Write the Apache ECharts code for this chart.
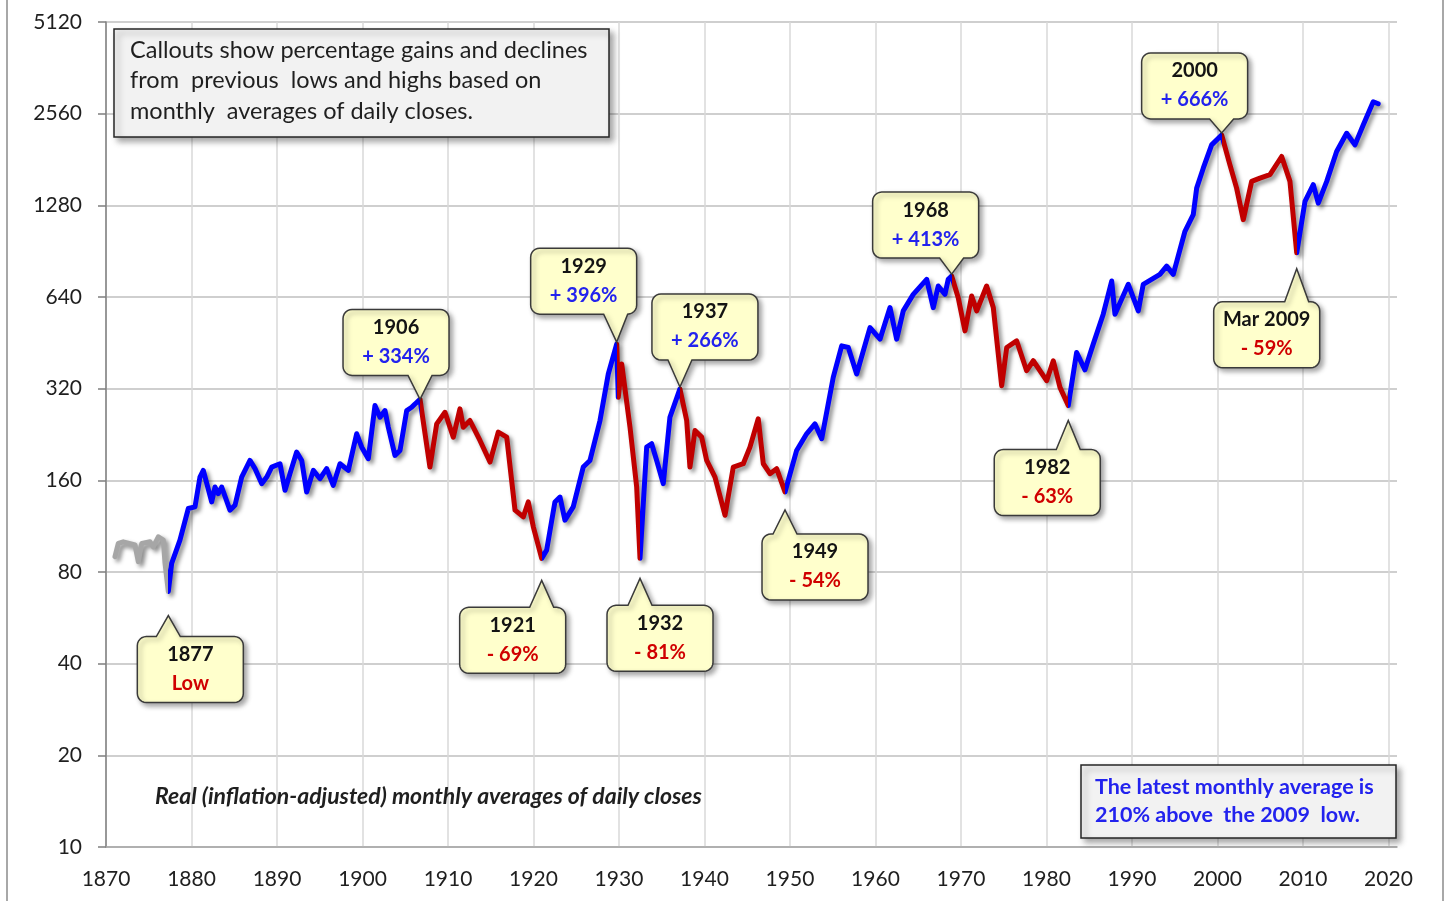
<!DOCTYPE html>
<html>
<head>
<meta charset="utf-8">
<title>Real S&amp;P Composite, monthly averages</title>
<script src="https://cdn.jsdelivr.net/npm/echarts@6.0.0/dist/echarts.min.js"></script>
<style>
  html, body { margin: 0; padding: 0; background: #fff; }
  #main { width: 1449px; height: 901px; }
</style>
</head>
<body>
<div id="main"></div>
<script>
// real (inflation-adjusted) monthly averages
var years = [
  1871.05, 1871.44, 1872.02, 1873.39, 1873.78, 1874.18, 1875.15, 1875.53, 1876.12, 1876.70, 1876.90, 1877.29,
  1877.68, 1878.65, 1879.63, 1880.41, 1880.99, 1881.38, 1882.36, 1882.75, 1883.13, 1883.53, 1884.50, 1885.09,
  1885.87, 1886.84, 1887.43, 1888.21, 1888.80, 1889.38, 1890.35, 1890.94, 1891.52, 1892.30, 1892.89, 1893.47,
  1894.25, 1895.03, 1895.81, 1896.58, 1897.37, 1898.34, 1899.32, 1899.91, 1900.68, 1901.46, 1902.05, 1902.63,
  1903.02, 1903.80, 1904.39, 1905.17, 1905.75, 1906.14, 1906.73,
  1907.89, 1908.68, 1909.65, 1910.62, 1911.40, 1911.79, 1912.57, 1913.74, 1914.91, 1915.88, 1916.87, 1917.84,
  1918.81, 1919.39, 1919.98, 1920.96,
  1921.54, 1922.51, 1923.10, 1923.68, 1924.65, 1925.82, 1926.61, 1927.78, 1928.75, 1929.73,
  1929.92, 1930.32, 1931.29, 1932.07, 1932.46,
  1933.24, 1933.82, 1934.41, 1935.18, 1935.96, 1937.13,
  1937.92, 1938.30, 1938.89, 1939.67, 1940.26, 1941.23, 1942.40, 1943.37, 1944.54, 1945.32, 1946.29, 1946.88,
  1947.66, 1948.44, 1949.42,
  1950.78, 1951.95, 1952.92, 1953.71, 1955.06, 1956.05, 1956.82, 1957.80, 1959.36, 1960.53, 1961.70, 1962.48,
  1963.25, 1964.42, 1965.99, 1966.76, 1967.34, 1968.13, 1968.51, 1968.91,
  1969.68, 1970.47, 1971.25, 1971.84, 1973.00, 1973.78, 1974.76, 1975.35, 1976.51, 1977.68, 1978.46, 1980.02,
  1980.80, 1981.58, 1982.55,
  1983.53, 1984.50, 1985.47, 1986.64, 1987.63, 1988.01, 1989.57, 1990.74, 1991.32, 1993.27, 1994.06, 1994.83,
  1996.20, 1997.17, 1997.57, 1998.34, 1999.32, 2000.49,
  2001.46, 2002.24, 2003.02, 2004.00, 2004.97, 2006.14, 2007.51, 2008.48, 2009.27,
  2010.24, 2011.21, 2011.79, 2012.78, 2013.94, 2015.11, 2016.08, 2017.05, 2018.22, 2018.80
];
var values = [
  89.8, 99.3, 100.5, 98.1, 86.5, 99.3, 100.5, 96.8, 104.4, 101.8, 85.6, 69.0,
  85.4, 101.8, 129.3, 130.9, 164.0, 172.5, 135.9, 152.1, 144.7, 152.1, 127.7, 132.5,
  164.0, 186.0, 174.8, 156.1, 164.0, 176.9, 181.4, 148.4, 168.3, 198.1, 186.0, 146.5,
  172.5, 162.0, 174.8, 154.1, 181.4, 172.5, 227.5, 205.6, 188.4, 281.6, 257.8, 271.2,
  239.0, 193.2, 200.6, 271.2, 278.0, 285.0, 295.0,
  176.9, 245.2, 267.7, 221.8, 274.6, 239.0, 251.5, 216.3, 183.7, 230.3, 221.8, 127.7,
  121.4, 135.9, 112.6, 88.7,
  94.4, 135.9, 141.0, 118.4, 130.9, 176.9, 186.0, 251.5, 357.4, 448.1,
  299.7, 385.3, 239.0, 152.1, 88.7,
  205.6, 211.0, 186.0, 156.1, 257.8, 319.3,
  251.5, 176.9, 233.2, 221.8, 186.0, 164.0, 122.9, 176.9, 181.4, 205.6, 254.8, 181.4,
  168.3, 174.8, 146.5,
  200.6, 227.5, 245.2, 219.1, 348.6, 442.3, 436.9, 357.4, 507.9, 465.3, 590.7, 465.3,
  576.1, 653.0, 731.4, 590.7, 695.7, 653.0, 731.4, 749.7,
  636.6, 495.3, 645.0, 576.1, 695.7, 590.7, 327.4, 436.9, 459.5, 366.6, 395.2, 339.9,
  395.2, 323.1, 281.6,
  420.7, 369.0, 448.1, 561.9, 722.3, 561.9, 704.3, 576.1, 704.3, 759.7, 808.6, 759.7,
  1052, 1193, 1458, 1695, 2022, 2180,
  1739, 1458, 1149, 1534, 1573, 1614, 1852, 1534, 894,
  1319, 1496, 1302, 1534, 1922, 2207, 2022, 2351, 2801, 2760
];

// lows and highs where the colour changes (gray, then blue rises / red falls)
var turns = [1877.29, 1906.73, 1920.96, 1929.73, 1932.46, 1937.13, 1949.42, 1968.91, 1982.55, 2000.49, 2009.27];
var calloutTitles = ['1877', '1906', '1921', '1929', '1932', '1937', '1949', '1968', '1982', '2000', 'Mar 2009'];
var calloutNotes = ['Low', '+ 334%', '- 69%', '+ 396%', '- 81%', '+ 266%', '- 54%', '+ 413%', '- 63%', '+ 666%', '- 59%'];

// box centre offset from the turning point (px) and gap between point and pointer tip
var calloutLayout = [
  [22, 78, 24], [-24, -57, 0], [-29, 82, 22], [-33, -63, 2], [20, 80, 20], [25, -62, 2],
  [30, 75, 18], [-26, -51, 2], [-21, 77, 15], [-27, -49, 2], [-30, 82, 16]
];

var FONT = 'Lato, "Open Sans", sans-serif';
var BLUE = '#0000ff', RED = '#c00000', GRAY = '#a6a6a6';

var myChart = echarts.init(document.getElementById('main'));

var lineData = years.map(function (y, i) { return [y, Math.log2(values[i] / 10)]; });

var bounds = [1860].concat(turns, [2030]);
var pieces = [];
for (var i = 0; i < bounds.length - 1; i++) {
  pieces.push({ gte: bounds[i], lt: bounds[i + 1], color: i === 0 ? GRAY : (i % 2 ? BLUE : RED) });
}

var option = {
  animation: false,
  backgroundColor: '#fff',
  grid: { left: 106, right: 52, top: 22, bottom: 54 },
  visualMap: { type: 'piecewise', show: false, dimension: 0, seriesIndex: 0, pieces: pieces },
  xAxis: {
    type: 'value', min: 1870, max: 2021, interval: 10,
    axisLine: { show: true, lineStyle: { color: '#a6a6a6', width: 1.5 } },
    axisTick: { show: false },
    splitLine: { show: true, showMaxLine: false, lineStyle: { color: '#d9d9d9', width: 1.5 } },
    axisLabel: {
      showMaxLabel: false, margin: 22, fontSize: 21, color: '#1f1f1f', fontFamily: FONT,
      formatter: function (v) { return v % 10 === 0 ? String(v) : ''; }
    }
  },
  yAxis: {
    type: 'value', min: 0, max: 9, interval: 1,
    axisLine: { show: true, lineStyle: { color: '#7f7f7f', width: 1.5 } },
    axisTick: { show: true, length: 8, lineStyle: { color: '#7f7f7f', width: 1.5 } },
    splitLine: { show: true, lineStyle: { color: '#bfbfbf', width: 1.5 } },
    axisLabel: {
      margin: 24, fontSize: 21, color: '#1f1f1f', fontFamily: FONT,
      formatter: function (v) { return String(Math.round(10 * Math.pow(2, v))); }
    }
  },
  series: [{
    type: 'line',
    data: lineData,
    symbol: 'none',
    z: 3,
    lineStyle: {
      width: 5, join: 'round', cap: 'round',
      shadowColor: 'rgba(0,0,0,0.45)', shadowBlur: 4, shadowOffsetX: 3, shadowOffsetY: 3
    }
  }]
};
myChart.setOption(option);

function arc(pts, cx, cy, r, a0, a1) {
  for (var k = 0; k <= 6; k++) {
    var a = (a0 + (a1 - a0) * k / 6) * Math.PI / 180;
    pts.push([cx + r * Math.cos(a), cy + r * Math.sin(a)]);
  }
}

// rounded box with a pointer to (tx, ty)
function calloutShape(cx, cy, w, h, r, tx, ty) {
  var x0 = cx - w / 2, x1 = cx + w / 2, y0 = cy - h / 2, y1 = cy + h / 2;
  var half = 12;
  var bc = Math.min(Math.max(tx, x0 + r + half), x1 - r - half);
  var pts = [];
  arc(pts, x0 + r, y0 + r, r, 180, 270);
  if (ty < y0) { pts.push([bc - half, y0], [tx, ty], [bc + half, y0]); }
  arc(pts, x1 - r, y0 + r, r, 270, 360);
  arc(pts, x1 - r, y1 - r, r, 0, 90);
  if (ty > y1) { pts.push([bc + half, y1], [tx, ty], [bc - half, y1]); }
  arc(pts, x0 + r, y1 - r, r, 90, 180);
  return pts;
}

var graphics = [];

// outer frame of the picture
graphics.push({
  type: 'rect', shape: { x: 7, y: -10, width: 1436, height: 921 },
  style: { fill: 'none', stroke: '#8c8c8c', lineWidth: 1.5 }, z: 1
});

turns.forEach(function (t, i) {
  var idx = years.indexOf(t);
  var p = myChart.convertToPixel({ gridIndex: 0 }, lineData[idx]);
  var lay = calloutLayout[i];
  var cx = p[0] + lay[0], cy = p[1] + lay[1];
  var ty = lay[1] > 0 ? p[1] + lay[2] : p[1] - lay[2];
  var note = calloutNotes[i];
  graphics.push({
    type: 'polygon', z: 100,
    shape: { points: calloutShape(cx, cy, 106, 66, 9, p[0], ty) },
    style: {
      fill: '#ffffcc', stroke: '#3a3a3a', lineWidth: 1.5,
      shadowBlur: 5, shadowOffsetX: 3, shadowOffsetY: 3, shadowColor: 'rgba(0,0,0,0.35)'
    }
  });
  graphics.push({
    type: 'text', z: 101,
    style: { text: calloutTitles[i], x: cx, y: cy - 15, textAlign: 'center', textVerticalAlign: 'middle',
      font: 'bold 20px ' + FONT, fill: '#141414' }
  });
  graphics.push({
    type: 'text', z: 101,
    style: { text: note, x: cx, y: cy + 14, textAlign: 'center', textVerticalAlign: 'middle',
      font: 'bold 20px ' + FONT, fill: note.charAt(0) === '+' ? '#2222ee' : '#d00000' }
  });
});

// note box, top left
graphics.push({
  type: 'rect', z: 100, shape: { x: 114, y: 29, width: 495, height: 108 },
  style: { fill: '#f2f2f2', stroke: '#262626', lineWidth: 1.5,
    shadowBlur: 6, shadowOffsetX: 4, shadowOffsetY: 4, shadowColor: 'rgba(0,0,0,0.35)' }
});
['Callouts show percentage gains and declines', 'from  previous  lows and highs based on', 'monthly  averages of daily closes.']
  .forEach(function (s, k) {
    graphics.push({
      type: 'text', z: 101,
      style: { text: s, x: 130, y: 50 + k * 30.5, textAlign: 'left', textVerticalAlign: 'middle',
        font: '23.5px ' + FONT, fill: '#1f1f1f' }
    });
  });

// latest value box, bottom right
graphics.push({
  type: 'rect', z: 100, shape: { x: 1081, y: 765, width: 315, height: 73 },
  style: { fill: '#f2f2f2', stroke: '#262626', lineWidth: 1.5,
    shadowBlur: 6, shadowOffsetX: 4, shadowOffsetY: 4, shadowColor: 'rgba(0,0,0,0.35)' }
});
['The latest monthly average is', '210% above  the 2009  low.'].forEach(function (s, k) {
  graphics.push({
    type: 'text', z: 101,
    style: { text: s, x: 1095, y: 787 + k * 28, textAlign: 'left', textVerticalAlign: 'middle',
      font: 'bold 21.5px ' + FONT, fill: '#2222ee' }
  });
});

graphics.push({
  type: 'text', z: 101,
  style: { text: 'Real (inflation-adjusted) monthly averages of daily closes', x: 155, y: 797,
    textAlign: 'left', textVerticalAlign: 'middle', font: 'italic bold 23px ' + FONT, fill: '#1f1f1f' }
});

myChart.setOption({ graphic: graphics });
</script>
</body>
</html>
